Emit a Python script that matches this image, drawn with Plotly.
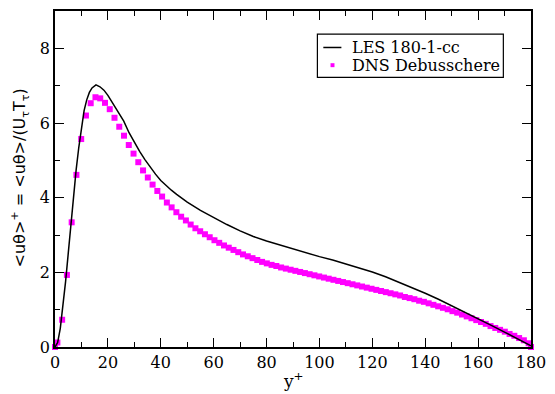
import plotly.graph_objects as go

# DNS (Debusschere) profile of <u theta>+ across the channel, wall points included
dns_yplus = [0.0, 0.9, 2.7, 4.5, 6.3, 8.1, 9.9, 11.7, 13.5, 15.3, 17.1, 18.9, 20.7, 22.5,
             24.3, 26.1, 27.9, 29.7, 31.5, 33.3, 35.1, 36.9, 38.7, 40.5, 42.3, 44.1, 45.9,
             47.7, 49.5, 51.3, 53.1, 54.9, 56.7, 58.5, 60.3, 62.1, 63.9, 65.7, 67.5, 69.3,
             71.1, 72.9, 74.7, 76.5, 78.3, 80.1, 81.9, 83.7, 85.5, 87.3, 89.1, 90.9, 92.7,
             94.5, 96.3, 98.1, 99.9, 101.7, 103.5, 105.3, 107.1, 108.9, 110.7, 112.5, 114.3,
             116.1, 117.9, 119.7, 121.5, 123.3, 125.1, 126.9, 128.7, 130.5, 132.3, 134.1,
             135.9, 137.7, 139.5, 141.3, 143.1, 144.9, 146.7, 148.5, 150.3, 152.1, 153.9,
             155.7, 157.5, 159.3, 161.1, 162.9, 164.7, 166.5, 168.3, 170.1, 171.9, 173.7,
             175.5, 177.3, 179.1, 180.0]
dns_flux = [0.00, 0.12, 0.73, 1.93, 3.34, 4.61, 5.57, 6.20, 6.53, 6.69, 6.66, 6.54, 6.37, 6.14,
            5.90, 5.66, 5.41, 5.18, 4.95, 4.73, 4.54, 4.35, 4.18, 4.03, 3.87, 3.74, 3.61,
            3.49, 3.39, 3.28, 3.18, 3.10, 3.02, 2.94, 2.86, 2.79, 2.72, 2.66, 2.60, 2.54,
            2.48, 2.43, 2.38, 2.33, 2.28, 2.24, 2.20, 2.17, 2.13, 2.10, 2.07, 2.04, 2.01,
            1.98, 1.95, 1.92, 1.89, 1.86, 1.83, 1.80, 1.77, 1.74, 1.71, 1.68, 1.65,
            1.62, 1.59, 1.56, 1.53, 1.50, 1.47, 1.44, 1.41, 1.38, 1.34, 1.31,
            1.28, 1.24, 1.21, 1.17, 1.13, 1.09, 1.05, 1.01, 0.96, 0.92, 0.87,
            0.82, 0.77, 0.72, 0.67, 0.62, 0.56, 0.51, 0.46, 0.41, 0.35, 0.30,
            0.24, 0.18, 0.10, 0.00]

# LES 180-1-cc profile
les_yplus = [0, 1, 2, 3, 4, 5, 6, 7, 8, 9, 10, 11, 12, 13, 14, 15.5, 17, 18.5, 20, 22, 24,
             26, 28, 30, 32, 34, 36, 38, 40, 42, 44, 46, 48, 50, 55, 60, 65, 70, 75, 80, 85,
             90, 95, 100, 105, 110, 115, 120, 125, 130, 135, 140, 145, 150, 155, 160, 165,
             170, 175, 180]
les_flux = [0.00, 0.12, 0.50, 1.05, 1.75, 2.50, 3.30, 4.05, 4.75, 5.35, 5.90, 6.33, 6.62,
            6.82, 6.94, 7.02, 6.97, 6.88, 6.74, 6.50, 6.28, 6.05, 5.74, 5.47, 5.24, 5.02,
            4.82, 4.63, 4.46, 4.32, 4.20, 4.09, 3.98, 3.88, 3.66, 3.46, 3.28, 3.11, 2.96,
            2.84, 2.73, 2.62, 2.52, 2.42, 2.33, 2.23, 2.12, 2.01, 1.88, 1.74, 1.59, 1.44,
            1.28, 1.11, 0.93, 0.75, 0.58, 0.40, 0.22, 0.03]

x_ticks = [0, 20, 40, 60, 80, 100, 120, 140, 160, 180]
y_ticks = [0, 2, 4, 6, 8]

SERIF = "DejaVu Serif"
SANS = "DejaVu Sans"
MAGENTA = "#ff00ff"

W, H = 555, 394
ML, MR, MT, MB = 55, 18, 9, 47
PW, PH = W - ML - MR, H - MT - MB


def px(x):
    return (x - ML) / PW


def py(y):
    return (H - MB - y) / PH


fig = go.Figure()
fig.add_trace(go.Scatter(x=dns_yplus, y=dns_flux, mode="markers", name="DNS Debusschere",
                         marker=dict(symbol="square", size=6, color=MAGENTA,
                                     line=dict(width=0)),
                         cliponaxis=False, showlegend=False))
fig.add_trace(go.Scatter(x=les_yplus, y=les_flux, mode="lines", name="LES 180-1-cc",
                         line=dict(color="black", width=1.5), showlegend=False))

axis_common = dict(showline=True, linecolor="black", linewidth=1.5, mirror="allticks",
                   ticks="inside", ticklen=9, tickwidth=1.2, tickcolor="black",
                   showgrid=False, zeroline=False,
                   tickfont=dict(family=SERIF, size=16, color="black"))

fig.update_xaxes(range=[0, 180], tickvals=x_ticks, ticktext=[str(v) for v in x_ticks],
                 minor=dict(ticks="inside", ticklen=5, dtick=10, tickcolor="black",
                            tickwidth=1.2, showgrid=False),
                 **axis_common)
fig.update_yaxes(range=[0, 9], tickvals=y_ticks, ticktext=[str(v) for v in y_ticks],
                 minor=dict(ticks="inside", ticklen=5, dtick=1, tickcolor="black",
                            tickwidth=1.2, showgrid=False),
                 **axis_common)

# legend box drawn in paper coordinates
lx0, lx1, ly0, ly1 = 320.7, 509, 32.3, 75.7
row1, row2 = 45.7, 63.5
shapes = [
    dict(type="rect", xref="paper", yref="paper", x0=px(lx0), x1=px(lx1),
         y0=py(ly1), y1=py(ly0), line=dict(color="black", width=1.2),
         fillcolor="white", layer="above"),
    dict(type="line", xref="paper", yref="paper", x0=px(326.7), x1=px(345),
         y0=py(row1), y1=py(row1), line=dict(color="black", width=1.5), layer="above"),
    dict(type="rect", xref="paper", yref="paper", x0=px(334), x1=px(338),
         y0=py(row2 + 2), y1=py(row2 - 2), line=dict(width=0), fillcolor=MAGENTA,
         layer="above"),
]

annotations = [
    dict(text="LES 180-1-cc", xref="paper", yref="paper", x=px(354), y=py(row1),
         xanchor="left", yanchor="middle", showarrow=False,
         font=dict(family=SERIF, size=16, color="black")),
    dict(text="DNS Debusschere", xref="paper", yref="paper", x=px(354), y=py(row2),
         xanchor="left", yanchor="middle", showarrow=False,
         font=dict(family=SERIF, size=16, color="black")),
    dict(text="y<sup>+</sup>", xref="paper", yref="paper", x=0.5, y=py(380),
         xanchor="center", yanchor="middle", showarrow=False,
         font=dict(family=SERIF, size=17, color="black")),
    dict(text="&lt;uθ&gt;<sup>+</sup> = &lt;uθ&gt;/(U<sub>τ</sub>T<sub>τ</sub>)",
         xref="paper", yref="paper", x=px(19), y=py(177), textangle=-90,
         xanchor="center", yanchor="middle", showarrow=False,
         font=dict(family=SANS, size=16, color="black")),
]

fig.update_layout(width=W, height=H, margin=dict(l=ML, r=MR, t=MT, b=MB),
                  paper_bgcolor="white", plot_bgcolor="white",
                  shapes=shapes, annotations=annotations, showlegend=False)

fig.write_html("out.html")
